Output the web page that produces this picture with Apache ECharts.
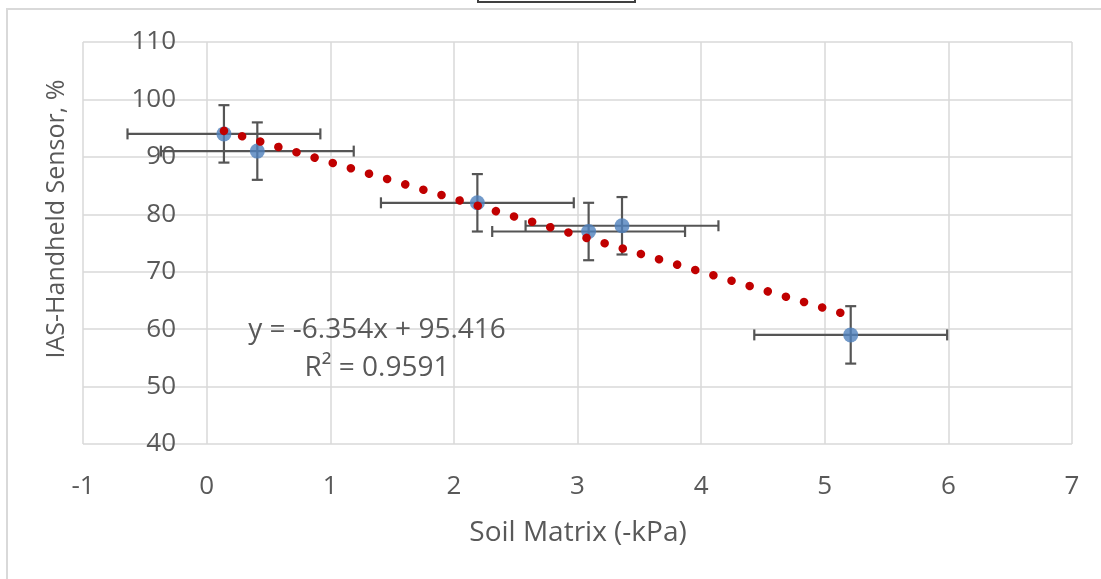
<!DOCTYPE html>
<html>
<head>
<meta charset="utf-8">
<script src="https://cdn.jsdelivr.net/npm/echarts@6/dist/echarts.min.js"></script>
<style>
html,body{margin:0;padding:0;background:#fff;}
#chart{width:1101px;height:579px;}
</style>
</head>
<body>
<div id="chart"></div>
<script>
// ---- data ----
const xValues = [0.14, 0.41, 2.19, 3.09, 3.36, 5.21];
const yValues = [94, 91, 82, 77, 78, 59];
const xErrors = [0.78, 0.78, 0.78, 0.78, 0.78, 0.78];
const yErrors = [5, 5, 5, 5, 5, 5];
const trendSlope = -6.354;
const trendIntercept = 95.416;
const equationText = 'y = -6.354x + 95.416';
const r2Text = 'R² = 0.9591';
const xAxisTitle = 'Soil Matrix (-kPa)';
const yAxisTitle = 'IAS-Handheld Sensor, %';
const xRange = [-1, 7];
const yRange = [40, 110];

const FONT = '"Open Sans", sans-serif';
const TXT = '#595959';

const points = xValues.map((x, i) => [x, yValues[i]]);
const errData = xValues.map((x, i) => [x, yValues[i], xErrors[i], yErrors[i]]);
const xMin = Math.min(...xValues), xMax = Math.max(...xValues);
const trendData = [[xMin, trendSlope * xMin + trendIntercept], [xMax, trendSlope * xMax + trendIntercept]];

const chart = echarts.init(document.getElementById('chart'), null, {renderer: 'canvas'});

function renderErr(params, api) {
  const x = api.value(0), y = api.value(1), ex = api.value(2), ey = api.value(3);
  const l = api.coord([x - ex, y]), r = api.coord([x + ex, y]);
  const t = api.coord([x, y + ey]), b = api.coord([x, y - ey]);
  const cap = 5.5;
  const st = {stroke: '#555555', lineWidth: 2.2};
  const seg = (x1, y1, x2, y2) => ({type: 'line', shape: {x1, y1, x2, y2}, style: st});
  return {
    type: 'group',
    children: [
      seg(l[0], l[1], r[0], r[1]),
      seg(l[0], l[1] - cap, l[0], l[1] + cap),
      seg(r[0], r[1] - cap, r[0], r[1] + cap),
      seg(t[0], t[1], b[0], b[1]),
      seg(t[0] - cap, t[1], t[0] + cap, t[1]),
      seg(b[0] - cap, b[1], b[0] + cap, b[1])
    ]
  };
}

const option = {
  animation: false,
  backgroundColor: '#fff',
  grid: {left: 83, right: 29, top: 42, bottom: 135, containLabel: false},
  xAxis: {
    type: 'value', min: xRange[0], max: xRange[1], interval: 1,
    axisLine: {show: false}, axisTick: {show: false},
    splitLine: {show: true, lineStyle: {color: '#d9d9d9', width: 1.5}},
    axisLabel: {color: TXT, fontFamily: FONT, fontSize: 26, lineHeight: 26, margin: 30}
  },
  yAxis: {
    type: 'value', min: yRange[0], max: yRange[1], interval: 10,
    offset: -124,
    axisLine: {show: false}, axisTick: {show: false},
    splitLine: {show: true, lineStyle: {color: '#d9d9d9', width: 1.5}},
    axisLabel: {color: TXT, fontFamily: FONT, fontSize: 26, margin: 31}
  },
  graphic: [
    {type: 'rect', z: 0, shape: {x: 7, y: 9, width: 1200, height: 700},
     style: {fill: 'none', stroke: '#d9d9d9', lineWidth: 2}},
    {type: 'rect', z: 0, shape: {x: 478, y: -20, width: 157, height: 22},
     style: {fill: '#fff', stroke: '#404040', lineWidth: 2}},
    {type: 'text', x: 578, y: 533, style: {text: xAxisTitle, fill: TXT, font: '28px ' + FONT, textAlign: 'center', textVerticalAlign: 'middle'}},
    {type: 'text', x: 57, y: 219, rotation: Math.PI / 2, style: {text: yAxisTitle, fill: TXT, font: '25px ' + FONT, textAlign: 'center', textVerticalAlign: 'middle'}},
    {type: 'text', x: 377, y: 330, z: 10, style: {text: equationText, fill: TXT, font: '28px ' + FONT, textAlign: 'center', textVerticalAlign: 'middle'}},
    {type: 'text', x: 377, y: 368, z: 10, style: {text: r2Text, fill: TXT, font: '28px ' + FONT, textAlign: 'center', textVerticalAlign: 'middle'}}
  ],
  series: [
    {type: 'custom', z: 2, renderItem: renderErr, data: errData, encode: {x: 0, y: 1}, silent: true},
    {type: 'scatter', z: 3, data: points, symbol: 'circle', symbolSize: 15,
     itemStyle: {color: '#4F81BD'}, silent: true},
    {type: 'line', z: 4, data: trendData, symbol: 'none', silent: true,
     lineStyle: {color: '#C00000', width: 8.5, type: [0.1, 18.8], cap: 'round'}}
  ]
};
chart.setOption(option);
</script>
</body>
</html>
